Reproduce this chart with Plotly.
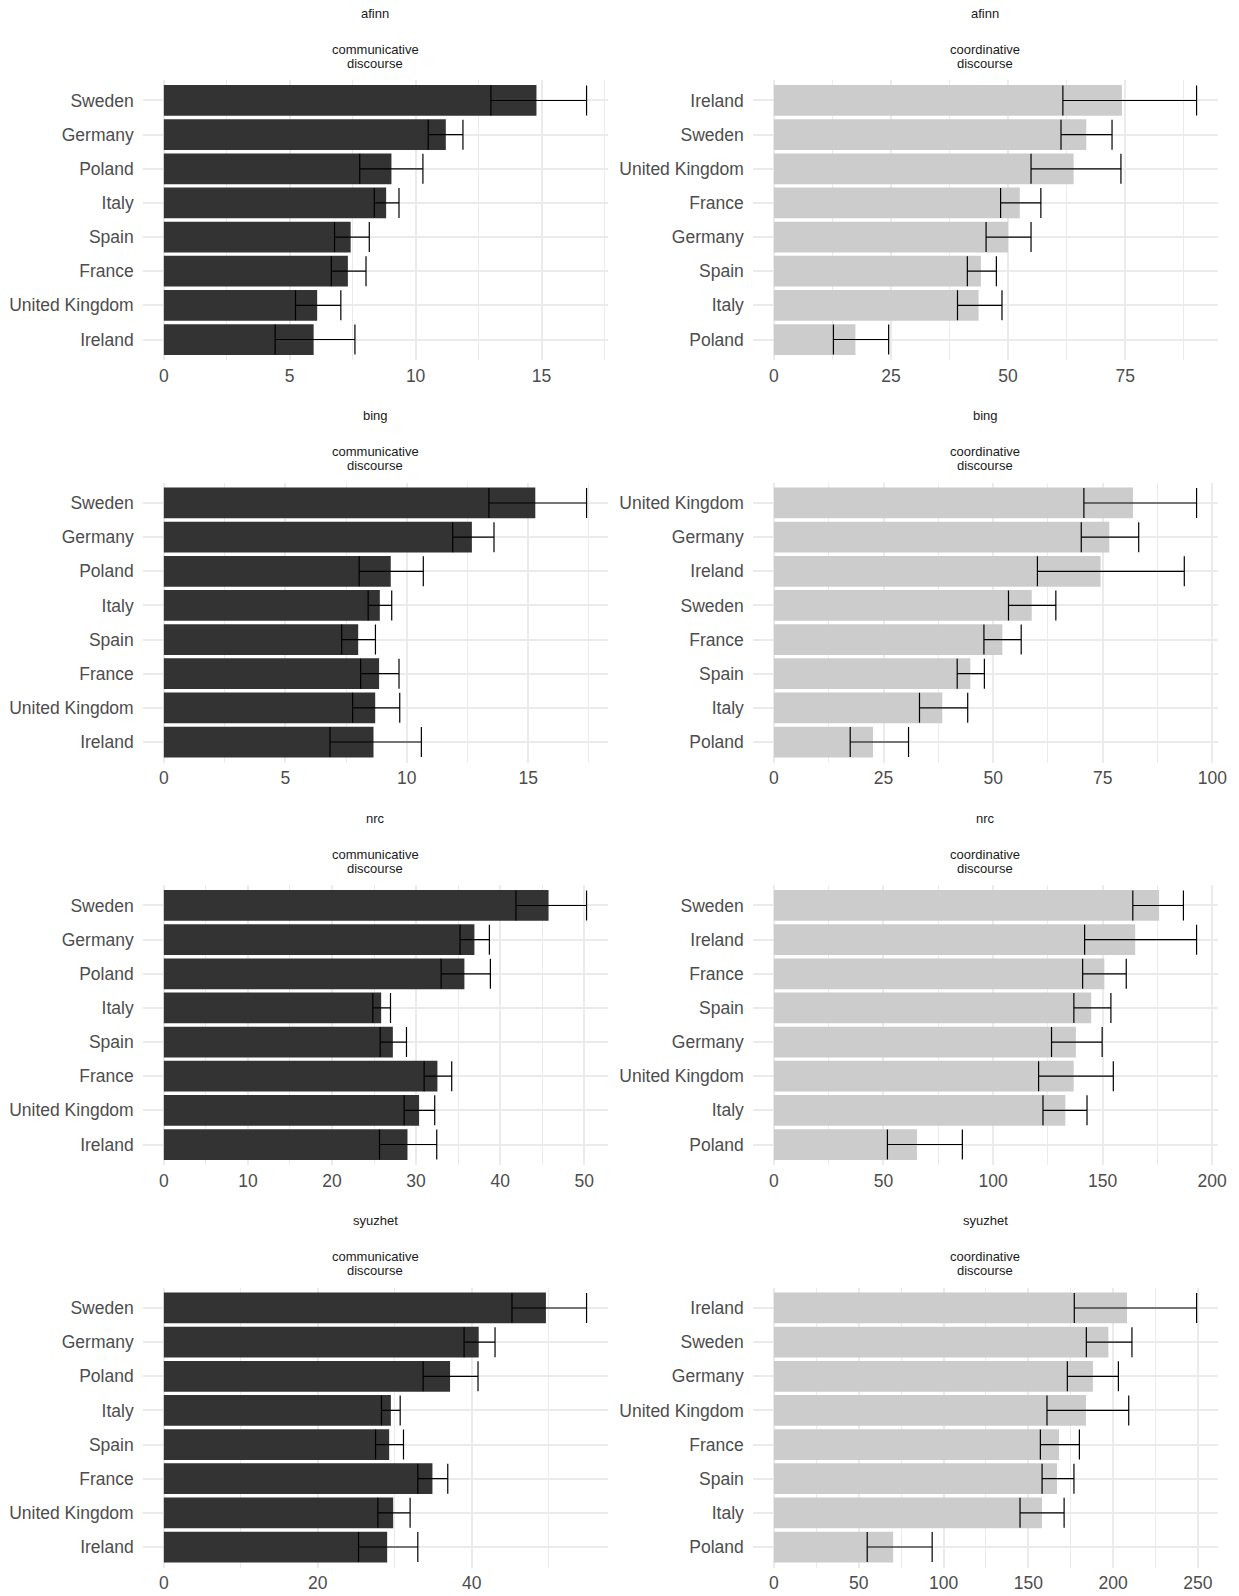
import plotly.graph_objects as go

# ---------------- data ----------------
lexicons = ["afinn", "bing", "nrc", "syuzhet"]
discourse_titles = ["communicative", "coordinative"]

comm_countries = ["Sweden", "Germany", "Poland", "Italy", "Spain", "France", "United Kingdom", "Ireland"]

afinn_comm_value = [14.80, 11.20, 9.04, 8.83, 7.42, 7.31, 6.09, 5.95]
afinn_comm_low = [12.99, 10.50, 7.78, 8.36, 6.78, 6.65, 5.23, 4.42]
afinn_comm_high = [16.79, 11.88, 10.29, 9.34, 8.16, 8.03, 7.03, 7.59]

afinn_coord_countries = ["Ireland", "Sweden", "United Kingdom", "France", "Germany", "Spain", "Italy", "Poland"]
afinn_coord_value = [74.3, 66.7, 64.0, 52.5, 50.0, 44.2, 43.7, 17.4]
afinn_coord_low = [61.7, 61.3, 54.9, 48.4, 45.3, 41.3, 39.2, 12.7]
afinn_coord_high = [90.25, 72.2, 74.1, 57.0, 54.9, 47.5, 48.7, 24.5]

bing_comm_value = [15.29, 12.68, 9.34, 8.89, 8.00, 8.86, 8.70, 8.63]
bing_comm_low = [13.38, 11.89, 8.04, 8.41, 7.32, 8.10, 7.77, 6.84]
bing_comm_high = [17.40, 13.59, 10.68, 9.38, 8.71, 9.68, 9.71, 10.60]

bing_coord_countries = ["United Kingdom", "Germany", "Ireland", "Sweden", "France", "Spain", "Italy", "Poland"]
bing_coord_value = [81.9, 76.5, 74.5, 58.8, 52.1, 44.8, 38.4, 22.6]
bing_coord_low = [70.7, 70.1, 60.1, 53.5, 47.9, 41.8, 33.2, 17.4]
bing_coord_high = [96.4, 83.2, 93.6, 64.3, 56.4, 48.0, 44.2, 30.7]

nrc_comm_value = [45.76, 36.94, 35.75, 25.85, 27.24, 32.54, 30.36, 28.98]
nrc_comm_low = [41.88, 35.23, 32.98, 24.86, 25.73, 30.96, 28.58, 25.65]
nrc_comm_high = [50.28, 38.72, 38.84, 26.96, 28.86, 34.24, 32.22, 32.46]

nrc_coord_countries = ["Sweden", "Ireland", "France", "Spain", "Germany", "United Kingdom", "Italy", "Poland"]
nrc_coord_value = [175.8, 164.9, 150.8, 144.8, 137.8, 136.8, 133.0, 65.3]
nrc_coord_low = [163.8, 141.8, 140.9, 136.9, 126.7, 120.8, 122.8, 51.8]
nrc_coord_high = [186.9, 192.9, 160.8, 153.8, 149.8, 154.9, 142.9, 86.0]

syuzhet_comm_value = [49.63, 40.90, 37.18, 29.49, 29.27, 34.89, 29.79, 29.01]
syuzhet_comm_low = [45.22, 39.00, 33.68, 28.27, 27.50, 32.99, 27.80, 25.29]
syuzhet_comm_high = [54.91, 43.02, 40.81, 30.70, 31.13, 36.88, 31.99, 32.99]

syuzhet_coord_countries = ["Ireland", "Sweden", "Germany", "United Kingdom", "France", "Spain", "Italy", "Poland"]
syuzhet_coord_value = [208.2, 197.2, 188.1, 184.0, 168.1, 166.9, 158.1, 70.3]
syuzhet_coord_low = [177.1, 184.2, 173.0, 161.0, 157.1, 158.1, 145.1, 55.0]
syuzhet_coord_high = [249.2, 211.1, 203.1, 209.2, 180.1, 176.9, 171.1, 93.3]

# tick spacing per panel (communicative, coordinative)
tick_steps = {"afinn": (5, 25), "bing": (5, 25), "nrc": (10, 50), "syuzhet": (20, 50)}

panels = {
    ("afinn", 0): (comm_countries, afinn_comm_value, afinn_comm_low, afinn_comm_high),
    ("afinn", 1): (afinn_coord_countries, afinn_coord_value, afinn_coord_low, afinn_coord_high),
    ("bing", 0): (comm_countries, bing_comm_value, bing_comm_low, bing_comm_high),
    ("bing", 1): (bing_coord_countries, bing_coord_value, bing_coord_low, bing_coord_high),
    ("nrc", 0): (comm_countries, nrc_comm_value, nrc_comm_low, nrc_comm_high),
    ("nrc", 1): (nrc_coord_countries, nrc_coord_value, nrc_coord_low, nrc_coord_high),
    ("syuzhet", 0): (comm_countries, syuzhet_comm_value, syuzhet_comm_low, syuzhet_comm_high),
    ("syuzhet", 1): (syuzhet_coord_countries, syuzhet_coord_value, syuzhet_coord_low, syuzhet_coord_high),
}

# ---------------- styling / layout ----------------
W, H = 1239, 1596
bar_colors = ["#333333", "#CCCCCC"]
col_px = [(142.7, 607.7), (752.8, 1217.7)]
row_top0, row_step, panel_h = 80.0, 402.5, 280.0
grid_col = "#EBEBEB"
tick_font = dict(family="Liberation Sans, Arial, sans-serif", size=17.5, color="#4D4D4D")
strip_font = dict(family="Liberation Sans, Arial, sans-serif", size=13, color="#1A1A1A")

fig = go.Figure()
annotations = []
idx = 0
for r, lex in enumerate(lexicons):
    top = row_top0 + r * row_step
    bottom = top + panel_h
    ydom = [1 - bottom / H, 1 - top / H]
    for c in range(2):
        idx += 1
        countries, vals, lows, highs = panels[(lex, c)]
        xa = "x" if idx == 1 else f"x{idx}"
        ya = "y" if idx == 1 else f"y{idx}"
        fig.add_trace(go.Bar(
            x=vals, y=countries, orientation="h", width=0.9,
            marker=dict(color=bar_colors[c], line=dict(width=0)),
            error_x=dict(type="data", symmetric=False,
                         array=[h - v for h, v in zip(highs, vals)],
                         arrayminus=[v - l for v, l in zip(vals, lows)],
                         color="#000000", thickness=1.2, width=15),
            xaxis=xa, yaxis=ya, showlegend=False, hoverinfo="x+y",
        ))
        lo = min(0, min(lows))
        hi = max(highs)
        pad = 0.05 * (hi - lo)
        step = tick_steps[lex][c]
        xd = [col_px[c][0] / W, col_px[c][1] / W]
        xkey = "xaxis" if idx == 1 else f"xaxis{idx}"
        ykey = "yaxis" if idx == 1 else f"yaxis{idx}"
        fig.update_layout(**{
            xkey: dict(domain=xd, anchor=ya, range=[lo - pad, hi + pad],
                       tick0=0, dtick=step, showgrid=True, gridcolor=grid_col,
                       gridwidth=1.5, zeroline=False, showline=False, ticks="",
                       tickfont=tick_font, ticklabelstandoff=3, automargin=False,
                       minor=dict(tick0=0, dtick=step / 2, showgrid=True,
                                  gridcolor=grid_col, gridwidth=0.8)),
            ykey: dict(domain=ydom, anchor=xa, type="category",
                       categoryorder="array", categoryarray=list(reversed(countries)),
                       range=[-0.6, 7.6], showgrid=True, gridcolor=grid_col,
                       gridwidth=1.5, zeroline=False, showline=False, ticks="",
                       tickfont=tick_font, ticklabelstandoff=8, automargin=False),
        })
        cx = (col_px[c][0] + col_px[c][1]) / 2 / W
        annotations.append(dict(text=lex, x=cx, y=1 - (13.3 + r * row_step) / H,
                                xref="paper", yref="paper", showarrow=False,
                                xanchor="center", yanchor="middle", font=strip_font))
        annotations.append(dict(text=discourse_titles[c], x=cx, y=1 - (49.3 + r * row_step) / H,
                                xref="paper", yref="paper", showarrow=False,
                                xanchor="center", yanchor="middle", font=strip_font))
        annotations.append(dict(text="discourse", x=cx, y=1 - (63.3 + r * row_step) / H,
                                xref="paper", yref="paper", showarrow=False,
                                xanchor="center", yanchor="middle", font=strip_font))

fig.update_layout(width=W, height=H, margin=dict(l=0, r=0, t=0, b=0, autoexpand=False),
                  paper_bgcolor="white", plot_bgcolor="white",
                  annotations=annotations, bargap=0.1)
fig.write_html("out.html")
